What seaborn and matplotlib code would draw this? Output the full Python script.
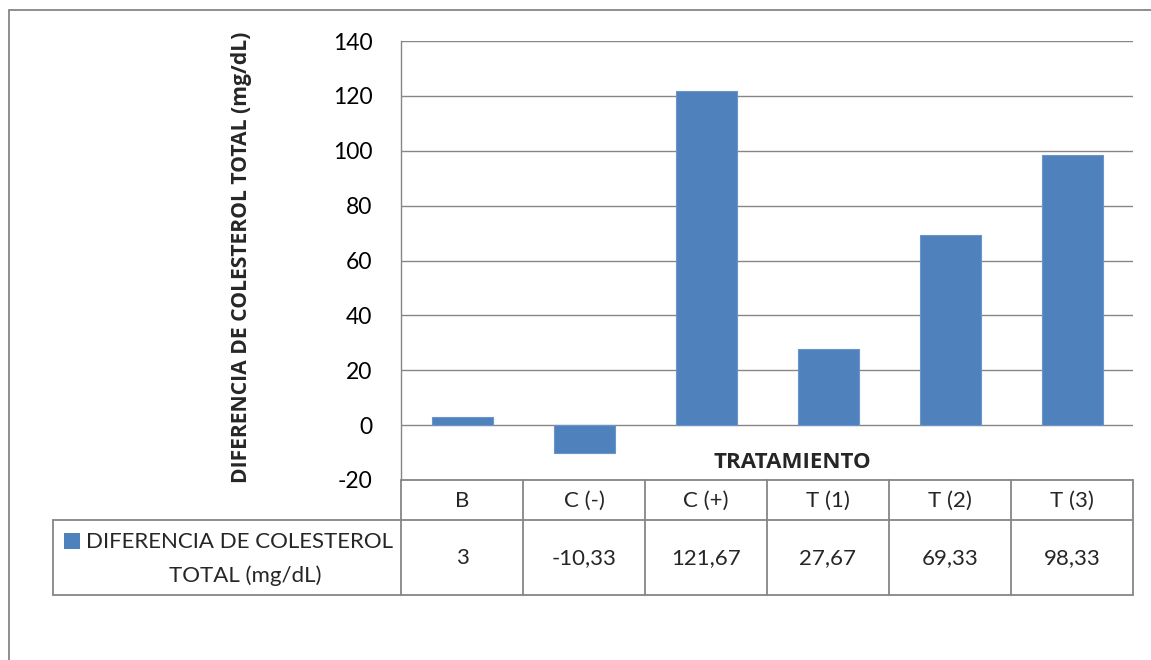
import matplotlib
matplotlib.use("Agg")
import matplotlib.pyplot as plt
from matplotlib.lines import Line2D
from matplotlib.patches import Rectangle
import seaborn as sns
import pandas as pd

# Data
categories = ["B", "C (-)", "C (+)", "T (1)", "T (2)", "T (3)"]
values = [3, -10.33, 121.67, 27.67, 69.33, 98.33]
series_name = "DIFERENCIA DE COLESTEROL TOTAL (mg/dL)"
legend_lines = ["DIFERENCIA DE COLESTEROL", "TOTAL (mg/dL)"]
y_ticks = [-20, 0, 20, 40, 60, 80, 100, 120, 140]
x_title = "TRATAMIENTO"

BAR = "#4F81BD"
GRID = "#868686"
FONT = "Lato"
BOLD_FONT = "Open Sans"

sns.set_theme(style="white")
plt.rcParams["font.family"] = [FONT, "DejaVu Sans"]

W, H = 1151, 660
fig = plt.figure(figsize=(W / 100, H / 100), dpi=100)


def fx(px):
    return px / W


def fy(py):
    return 1 - py / H


# plot area
left, right, top, bottom = 401, 1133, 41, 480
ax = fig.add_axes([fx(left), fy(bottom), fx(right) - fx(left), fy(top) - fy(bottom)])
df = pd.DataFrame({"cat": categories, "val": values})
sns.barplot(data=df, x="cat", y="val", color=BAR, width=0.5, saturation=1,
            edgecolor="#6C94C8", linewidth=0.8, ax=ax, zorder=3)
ax.set_ylim(y_ticks[0], y_ticks[-1])
ax.set_xlim(-0.5, len(categories) - 0.5)
ax.set_yticks(y_ticks)
ax.set_yticklabels([str(t) for t in y_ticks], fontsize=16.5, color="black")
ax.tick_params(axis="y", length=0, pad=20.5)
ax.set_xticks([])
ax.set_xlabel("")
ax.set_ylabel("")
ax.yaxis.grid(True, color=GRID, linewidth=1.0)
ax.set_axisbelow(True)
for s in ["top", "right", "bottom"]:
    ax.spines[s].set_visible(False)
ax.spines["left"].set_color(GRID)
ax.spines["left"].set_linewidth(1.0)

# axis titles
fig.text(fx(241), fy(257), series_name, rotation=90, ha="center", va="center",
         fontsize=15.2, fontweight="bold", family=[BOLD_FONT, "DejaVu Sans"])
fig.text(fx(792), fy(463), x_title, ha="center", va="center",
         fontsize=16, fontweight="bold", family=[BOLD_FONT, "DejaVu Sans"])

# data table
row1_top, row2_top, row2_bot = 480, 520, 595
tbl_left = 53
col_w = (right - left) / len(categories)


def hline(x0, x1, y):
    fig.add_artist(Line2D([fx(x0), fx(x1)], [fy(y), fy(y)], color=GRID, lw=1.3))


def vline(x, y0, y1):
    fig.add_artist(Line2D([fx(x), fx(x)], [fy(y0), fy(y1)], color=GRID, lw=1.3))


hline(left, right, row1_top)
hline(tbl_left, right, row2_top)
hline(tbl_left, right, row2_bot)
vline(tbl_left, row2_top, row2_bot)
for i in range(len(categories) + 1):
    vline(left + i * col_w, row1_top, row2_bot)

for i, (c, v) in enumerate(zip(categories, values)):
    cx = left + (i + 0.5) * col_w
    fig.text(fx(cx), fy((row1_top + row2_top) / 2 + 1), c, ha="center", va="center",
             fontsize=16)
    label = f"{v:g}".replace(".", ",")
    fig.text(fx(cx), fy((row2_top + row2_bot) / 2 + 1), label, ha="center", va="center",
             fontsize=16)

# legend key inside the table
fig.add_artist(Rectangle((fx(64), fy(549)), fx(16), fy(533) - fy(549),
                         facecolor=BAR, edgecolor="none"))
fig.text(fx(86), fy(542), legend_lines[0], ha="left", va="center", fontsize=16)
fig.text(fx(245), fy(576), legend_lines[1], ha="center", va="center", fontsize=16)

# chart border
fig.add_artist(Rectangle((fx(9), fy(700)), fx(1200), fy(10) - fy(700),
                         facecolor="none", edgecolor=GRID, lw=1.3))

fig.savefig("out.png", dpi=100)
